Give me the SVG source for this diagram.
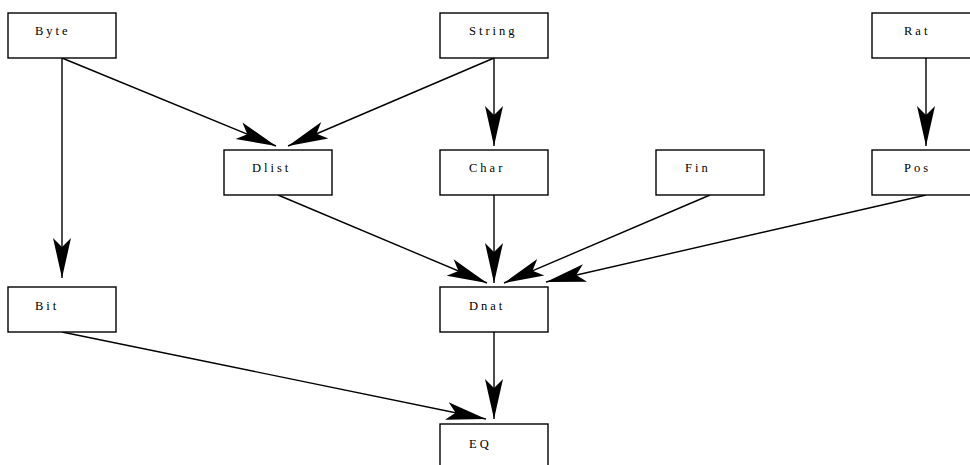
<svg xmlns="http://www.w3.org/2000/svg" width="970" height="465" viewBox="0 0 970 465">
  <style>
    .box { fill: #ffffff; stroke: #000000; stroke-width: 1.4; }
    .lbl { font-family: "Liberation Serif", "DejaVu Serif", serif; font-size: 12.5px; letter-spacing: 3px; fill: #000000; }
    .edge { fill: none; stroke: #000000; stroke-width: 1.4; marker-end: url(#head); }
  </style>
  <defs>
    <marker id="head" markerUnits="userSpaceOnUse" orient="auto" refX="0" refY="0" markerWidth="50" markerHeight="24" viewBox="-45 -12 50 24" overflow="visible">
      <path d="M0,0 L-40,-9 L-31,0 L-40,9 Z" fill="#000000"/>
    </marker>
  </defs>
  <rect width="970" height="465" fill="#ffffff"/>

  <!-- connectors -->
  <g id="edges">
    <line class="edge" x1="62" y1="58" x2="276" y2="146"/>
    <line class="edge" x1="494" y1="58" x2="288" y2="146"/>
    <line class="edge" x1="62" y1="58" x2="62" y2="278"/>
    <line class="edge" x1="494" y1="58" x2="494" y2="146"/>
    <line class="edge" x1="926" y1="58" x2="926" y2="146"/>
    <line class="edge" x1="278" y1="195" x2="487" y2="283"/>
    <line class="edge" x1="494" y1="195" x2="494" y2="283"/>
    <line class="edge" x1="710" y1="195" x2="504" y2="283"/>
    <line class="edge" x1="926" y1="195" x2="546" y2="282"/>
    <line class="edge" x1="62" y1="332" x2="486" y2="419"/>
    <line class="edge" x1="494" y1="332" x2="494" y2="419"/>
  </g>

  <!-- nodes -->
  <g id="Byte"><rect class="box" x="8" y="13" width="108" height="45"/><text class="lbl" x="35" y="35">Byte</text></g>
  <g id="String"><rect class="box" x="440" y="13" width="108" height="45"/><text class="lbl" x="469" y="35">String</text></g>
  <g id="Rat"><rect class="box" x="872" y="13" width="108" height="45"/><text class="lbl" x="904" y="35">Rat</text></g>
  <g id="Dlist"><rect class="box" x="224" y="150" width="108" height="45"/><text class="lbl" x="252" y="172">Dlist</text></g>
  <g id="Char"><rect class="box" x="440" y="150" width="108" height="45"/><text class="lbl" x="469" y="172">Char</text></g>
  <g id="Fin"><rect class="box" x="656" y="150" width="108" height="45"/><text class="lbl" x="685" y="172">Fin</text></g>
  <g id="Pos"><rect class="box" x="872" y="150" width="108" height="45"/><text class="lbl" x="904" y="172">Pos</text></g>
  <g id="Bit"><rect class="box" x="8" y="287" width="108" height="45"/><text class="lbl" x="35" y="310">Bit</text></g>
  <g id="Dnat"><rect class="box" x="440" y="287" width="108" height="45"/><text class="lbl" x="469" y="310">Dnat</text></g>
  <g id="EQ"><rect class="box" x="440" y="424" width="108" height="45"/><text class="lbl" x="469" y="448">EQ</text></g>
</svg>
